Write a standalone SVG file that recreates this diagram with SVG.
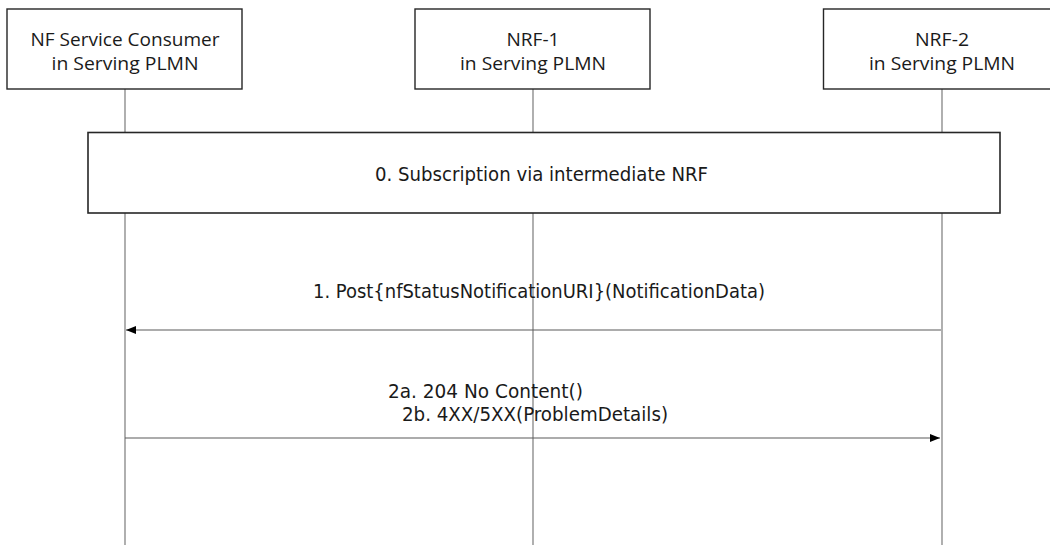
<svg xmlns="http://www.w3.org/2000/svg" width="1050" height="545" viewBox="0 0 1050 545">
  <style>
    .box { fill: #ffffff; stroke: #262626; stroke-width: 1.4; }
    .sub { fill: #ffffff; stroke: #262626; stroke-width: 1.6; }
    .life { stroke: #6e6e6e; stroke-width: 1.1; fill: none; }
    .msg { stroke: #5a5a5a; stroke-width: 1.2; fill: none; }
    .lbl { font-family: "Open Sans", "Liberation Sans", sans-serif; font-size: 19px; fill: #1a1a1a; }
    .mtxt { font-family: "Liberation Sans Narrow", "DejaVu Sans Condensed", "Liberation Sans", sans-serif; font-size: 20px; fill: #1a1a1a; }
  </style>
  <defs>
    <marker id="arrow" markerUnits="userSpaceOnUse" markerWidth="10" markerHeight="8" refX="10" refY="4" orient="auto">
      <path d="M0,0 L10,4 L0,8 z" fill="#000000"/>
    </marker>
  </defs>
  <rect x="0" y="0" width="1050" height="545" fill="#ffffff"/>

  <g id="lifelines">
    <line class="life" x1="125" y1="89" x2="125" y2="545"/>
    <line class="life" x1="533" y1="89" x2="533" y2="545"/>
    <line class="life" x1="942" y1="89" x2="942" y2="545"/>
  </g>

  <g id="consumer">
    <rect class="box" x="7" y="9" width="235" height="80"/>
    <text class="lbl" x="125" y="46" text-anchor="middle" textLength="189" lengthAdjust="spacingAndGlyphs">NF Service Consumer</text>
    <text class="lbl" x="125" y="70" text-anchor="middle" textLength="147" lengthAdjust="spacingAndGlyphs">in Serving PLMN</text>
  </g>

  <g id="nrf1">
    <rect class="box" x="415" y="9" width="235" height="80"/>
    <text class="lbl" x="533" y="46" text-anchor="middle" textLength="53" lengthAdjust="spacingAndGlyphs">NRF-1</text>
    <text class="lbl" x="533" y="70" text-anchor="middle" textLength="146" lengthAdjust="spacingAndGlyphs">in Serving PLMN</text>
  </g>

  <g id="nrf2">
    <rect class="box" x="823.5" y="9" width="237" height="80"/>
    <text class="lbl" x="942" y="46" text-anchor="middle" textLength="54" lengthAdjust="spacingAndGlyphs">NRF-2</text>
    <text class="lbl" x="942" y="70" text-anchor="middle" textLength="146" lengthAdjust="spacingAndGlyphs">in Serving PLMN</text>
  </g>

  <g id="subscription">
    <rect class="sub" x="88" y="132.5" width="912" height="80.5"/>
    <text class="mtxt" x="375" y="181" textLength="333" lengthAdjust="spacingAndGlyphs">0. Subscription via intermediate NRF</text>
  </g>

  <g id="connectors">
    <line class="msg" x1="941" y1="330" x2="126" y2="330" marker-end="url(#arrow)"/>
    <line class="msg" x1="125" y1="438" x2="940" y2="438" marker-end="url(#arrow)"/>
  </g>

  <g id="labels">
    <text class="mtxt" x="313" y="298" textLength="452" lengthAdjust="spacingAndGlyphs">1. Post{nfStatusNotificationURI}(NotificationData)</text>
    <text class="mtxt" x="388" y="398" textLength="195" lengthAdjust="spacingAndGlyphs">2a. 204 No Content()</text>
    <text class="mtxt" x="402" y="421" textLength="266" lengthAdjust="spacingAndGlyphs">2b. 4XX/5XX(ProblemDetails)</text>
  </g>
</svg>
